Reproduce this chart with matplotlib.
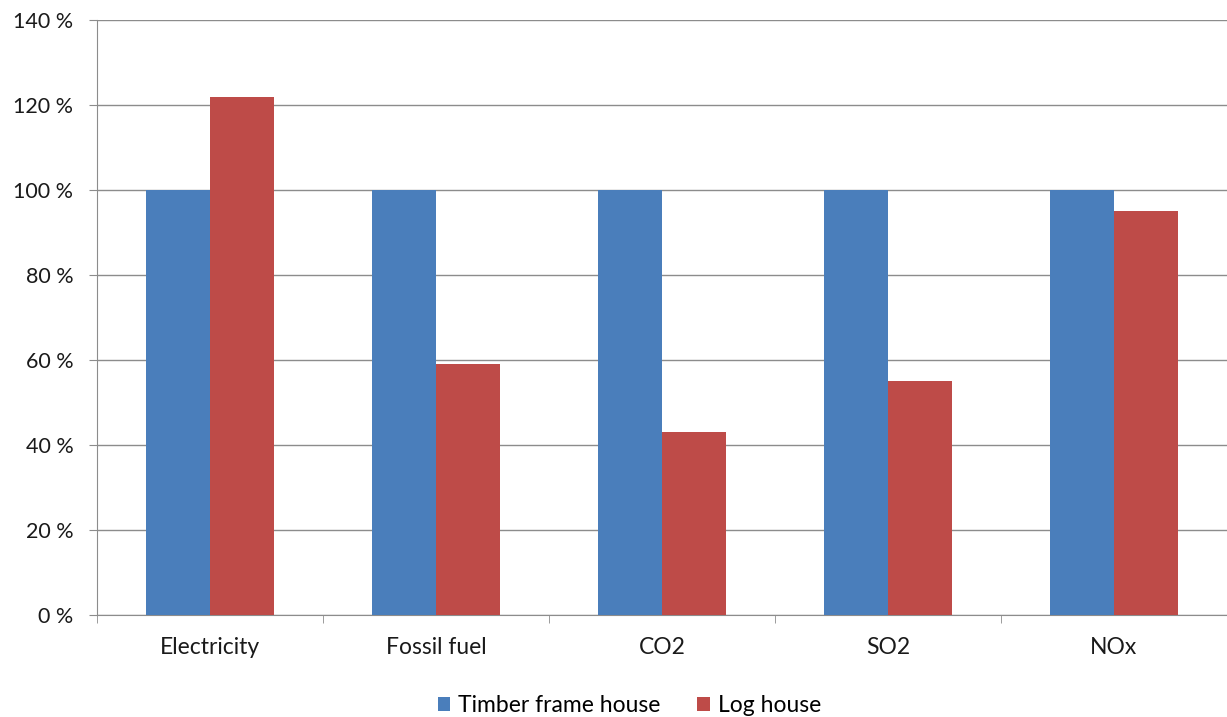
import numpy as np
import matplotlib.pyplot as plt
from matplotlib.ticker import FuncFormatter

# data
categories = ["Electricity", "Fossil fuel", "CO2", "SO2", "NOx"]
timber_frame = [100, 100, 100, 100, 100]
log_house = [122, 59, 43, 55, 95]
series_names = ["Timber frame house", "Log house"]

plt.rcParams["font.family"] = ["Lato", "DejaVu Sans"]

fig = plt.figure(figsize=(12.27, 7.17), dpi=100)
ax = fig.add_axes([0.079, 0.142, 0.921, 0.830])

x = np.arange(len(categories))
w = 0.283
ax.bar(x - w / 2, timber_frame, w, color="#4a7ebb", label=series_names[0], zorder=3)
ax.bar(x + w / 2, log_house, w, color="#be4b48", label=series_names[1], zorder=3)

ax.set_xlim(-0.5, len(categories) - 0.5)
ax.set_ylim(0, 140)
ax.set_yticks(np.arange(0, 141, 20))
ax.yaxis.set_major_formatter(FuncFormatter(lambda v, p: f"{int(v)} %"))
ax.grid(axis="y", color="#8c8c8c", linewidth=1, zorder=0)

# category ticks between groups
ax.set_xticks(x)
ax.set_xticklabels(categories)
ax.set_xticks(np.arange(-0.5, len(categories), 1), minor=True)
ax.tick_params(axis="x", which="major", length=0, pad=16, labelsize=16.5, colors="#1a1a1a")
ax.tick_params(axis="x", which="minor", length=6, color="#8c8c8c", direction="out")
ax.tick_params(axis="y", length=6, color="#8c8c8c", labelsize=15.5, labelcolor="#1a1a1a", pad=11)

for s in ["top", "right"]:
    ax.spines[s].set_visible(False)
for s in ["left", "bottom"]:
    ax.spines[s].set_color("#8c8c8c")

leg = fig.legend(loc="lower center", bbox_to_anchor=(0.513, -0.027), ncol=2, frameon=False,
                 fontsize=16.5, handlelength=0.55, handleheight=0.55, columnspacing=1.6,
                 handletextpad=0.35)

fig.savefig("out.png", dpi=100)
